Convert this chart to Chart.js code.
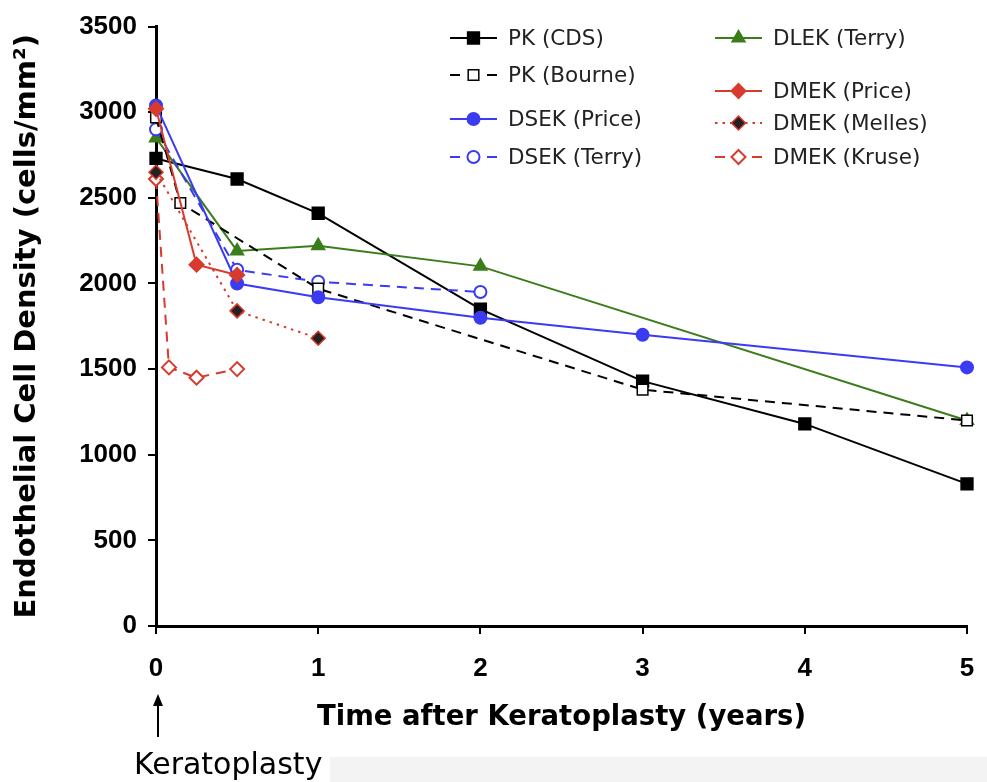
<!DOCTYPE html>
<html>
<head>
<meta charset="utf-8">
<script src="https://cdn.jsdelivr.net/npm/chart.js@4.4.0/dist/chart.umd.min.js"></script>
<style>
  html, body { margin: 0; padding: 0; background: #fff; }
  #wrap { position: relative; width: 987px; height: 782px; }
  #band { position: absolute; left: 330px; top: 757px; width: 657px; height: 25px; background: #f3f3f3; }
  #chart { position: absolute; left: 0; top: 0; }
</style>
</head>
<body>
<div id="wrap">
  <div id="band"></div>
  <canvas id="chart" width="987" height="782"></canvas>
</div>
<script>
// years after keratoplasty and endothelial cell density (cells/mm2) per study
const pkCdsX = [0, 0.5, 1, 2, 3, 4, 5];
const pkCdsY = [2730, 2610, 2410, 1850, 1430, 1180, 830];
const pkBourneX = [0, 0.15, 1, 3, 5];
const pkBourneY = [2970, 2470, 1970, 1380, 1200];
const dsekPriceX = [0, 0.5, 1, 2, 3, 5];
const dsekPriceY = [3040, 2000, 1920, 1800, 1700, 1510];
const dsekTerryX = [0, 0.5, 1, 2];
const dsekTerryY = [2900, 2080, 2010, 1950];
const dlekTerryX = [0, 0.5, 1, 2, 5];
const dlekTerryY = [2850, 2190, 2220, 2100, 1200];
const dmekPriceX = [0, 0.25, 0.5];
const dmekPriceY = [3020, 2110, 2050];
const dmekMellesX = [0, 0.5, 1];
const dmekMellesY = [2650, 1840, 1680];
const dmekKruseX = [0, 0.08, 0.25, 0.5];
const dmekKruseY = [2610, 1510, 1450, 1500];

const xTicks = [0, 1, 2, 3, 4, 5];
const yTicks = [0, 500, 1000, 1500, 2000, 2500, 3000, 3500];

const BLACK = '#000000';
const BLUE = '#3b3bf2';
const GREEN = '#3a7d1a';
const RED = '#d83a2e';
const FONT = '"DejaVu Sans", "Liberation Sans", sans-serif';
const TICKFONT = '"Liberation Sans", Arial, sans-serif';

function pts(xs, ys) {
  return xs.map((x, i) => ({ x: x, y: ys[i] }));
}

function series(label, xs, ys, color, opts) {
  return Object.assign({
    label: label,
    data: pts(xs, ys),
    borderColor: color,
    backgroundColor: color,
    pointBorderColor: color,
    pointBackgroundColor: color,
    borderWidth: 2,
    pointBorderWidth: 2,
    pointRadius: 6,
    pointHoverRadius: 6,
    tension: 0,
    clip: false
  }, opts);
}

const datasets = [
  series('DMEK (Price)', dmekPriceX, dmekPriceY, RED, { pointStyle: 'rectRot', pointRadius: 7 }),
  series('DSEK (Price)', dsekPriceX, dsekPriceY, BLUE, { pointStyle: 'circle' }),
  series('PK (Bourne)', pkBourneX, pkBourneY, BLACK, { pointStyle: 'rect', pointRadius: 7.5, borderDash: [10, 7], pointBackgroundColor: '#fff', pointBorderWidth: 1.5 }),
  series('DSEK (Terry)', dsekTerryX, dsekTerryY, BLUE, { pointStyle: 'circle', borderDash: [10, 7], pointBackgroundColor: '#fff' }),
  series('DLEK (Terry)', dlekTerryX, dlekTerryY, GREEN, { pointStyle: 'triangle', pointRadius: 7 }),
  series('PK (CDS)', pkCdsX, pkCdsY, BLACK, { pointStyle: 'rect', pointRadius: 8 }),
  series('DMEK (Melles)', dmekMellesX, dmekMellesY, RED, { pointStyle: 'rectRot', pointRadius: 7, borderDash: [2.5, 5], pointBackgroundColor: '#222', pointBorderWidth: 1.5 }),
  series('DMEK (Kruse)', dmekKruseX, dmekKruseY, RED, { pointStyle: 'rectRot', pointRadius: 7, borderDash: [10, 7], pointBackgroundColor: '#fff' })
];

// legend layout: two columns, irregular row spacing as in the figure
const legendSlots = {
  'PK (CDS)': [450, 38], 'PK (Bourne)': [450, 75],
  'DSEK (Price)': [450, 119], 'DSEK (Terry)': [450, 157],
  'DLEK (Terry)': [715, 38], 'DMEK (Price)': [715, 91],
  'DMEK (Melles)': [715, 123], 'DMEK (Kruse)': [715, 157]
};

function marker(ctx, style, x, y, r, fill, stroke, lw) {
  ctx.save();
  ctx.beginPath();
  if (style === 'circle') {
    ctx.arc(x, y, r, 0, Math.PI * 2);
  } else if (style === 'rect') {
    const s = r * Math.SQRT1_2;
    ctx.rect(x - s, y - s, 2 * s, 2 * s);
  } else if (style === 'rectRot') {
    ctx.moveTo(x, y - r); ctx.lineTo(x + r, y); ctx.lineTo(x, y + r); ctx.lineTo(x - r, y); ctx.closePath();
  } else if (style === 'triangle') {
    const w = r * Math.sqrt(3) / 2;
    ctx.moveTo(x, y - r); ctx.lineTo(x + w, y + r / 2); ctx.lineTo(x - w, y + r / 2); ctx.closePath();
  }
  ctx.fillStyle = fill;
  ctx.fill();
  ctx.lineWidth = lw;
  ctx.strokeStyle = stroke;
  ctx.setLineDash([]);
  ctx.stroke();
  ctx.restore();
}

const extras = {
  id: 'extras',
  afterDraw(chart) {
    const ctx = chart.ctx;
    // legend
    chart.data.datasets.forEach(ds => {
      const slot = legendSlots[ds.label];
      if (!slot) return;
      const [lx, ly] = slot;
      ctx.save();
      ctx.strokeStyle = ds.borderColor;
      ctx.lineWidth = 2;
      const dash = ds.borderDash || [];
      if (dash.length && dash[0] > 5) {
        ctx.beginPath(); ctx.moveTo(lx, ly); ctx.lineTo(lx + 10, ly); ctx.stroke();
        ctx.beginPath(); ctx.moveTo(lx + 37, ly); ctx.lineTo(lx + 47, ly); ctx.stroke();
      } else {
        ctx.setLineDash(dash);
        ctx.beginPath(); ctx.moveTo(lx, ly); ctx.lineTo(lx + 47, ly); ctx.stroke();
      }
      ctx.restore();
      marker(ctx, ds.pointStyle, lx + 23.5, ly, ds.pointRadius, ds.pointBackgroundColor, ds.pointBorderColor, ds.pointBorderWidth);
      ctx.save();
      ctx.fillStyle = '#222';
      ctx.font = '21.5px ' + FONT;
      ctx.textBaseline = 'middle';
      ctx.fillText(ds.label, lx + 58, ly + 1);
      ctx.restore();
    });
    // arrow marking the day of surgery
    const x0 = chart.scales.x.getPixelForValue(0) + 2;
    ctx.save();
    ctx.strokeStyle = '#000';
    ctx.fillStyle = '#000';
    ctx.lineWidth = 2;
    ctx.beginPath(); ctx.moveTo(x0, 737); ctx.lineTo(x0, 702); ctx.stroke();
    ctx.beginPath(); ctx.moveTo(x0, 694); ctx.lineTo(x0 - 5, 706); ctx.lineTo(x0 + 5, 706); ctx.closePath(); ctx.fill();
    ctx.font = '30px ' + FONT;
    ctx.textBaseline = 'middle';
    ctx.fillText('Keratoplasty', 134, 766);
    ctx.restore();
  }
};

new Chart(document.getElementById('chart'), {
  type: 'line',
  data: { datasets: datasets },
  plugins: [extras],
  options: {
    responsive: false,
    animation: false,
    events: [],
    layout: { padding: { top: 25, right: 20, left: 0, bottom: 0 } },
    plugins: { legend: { display: false }, tooltip: { enabled: false } },
    scales: {
      x: {
        type: 'linear',
        min: 0,
        max: 5,
        afterFit: s => { s.height = 156; s.paddingLeft = 0; s.paddingRight = 0; },
        afterBuildTicks: s => { s.ticks = xTicks.map(v => ({ value: v })); },
        ticks: { color: '#000', font: { family: TICKFONT, size: 26, weight: 'bold' }, padding: 19, maxRotation: 0, callback: v => String(v) },
        grid: { drawOnChartArea: false, drawTicks: true, tickLength: 8, color: '#000', lineWidth: 2 },
        border: { color: '#000', width: 3 },
        title: { display: true, text: 'Time after Keratoplasty (years)', color: '#000', font: { family: FONT, size: 27.5, weight: 'bold' }, padding: { top: 0, bottom: 48 } }
      },
      y: {
        min: 0,
        max: 3500,
        afterFit: s => { s.width = 156; },
        afterBuildTicks: s => { s.ticks = yTicks.map(v => ({ value: v })); },
        ticks: { color: '#000', font: { family: TICKFONT, size: 26, weight: 'bold' }, padding: 11, callback: v => String(v) },
        grid: { drawOnChartArea: false, drawTicks: true, tickLength: 8, color: '#000', lineWidth: 2 },
        border: { color: '#000', width: 3 },
        title: { display: true, text: 'Endothelial Cell Density (cells/mm²)', color: '#000', font: { family: FONT, size: 29, weight: 'bold' }, padding: { top: 10, bottom: 0 } }
      }
    }
  }
});
</script>
</body>
</html>
